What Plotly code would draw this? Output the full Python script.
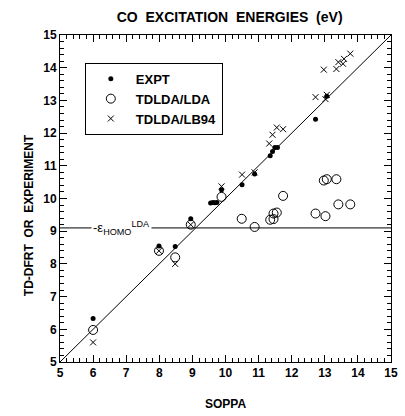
import plotly.graph_objects as go

# --- data ---
expt_x = [6.0, 7.99, 8.48, 8.95, 9.55, 9.62, 9.68, 9.74, 9.88, 10.5, 10.88, 11.35, 11.42, 11.49, 11.57, 12.72, 13.06]
expt_y = [6.33, 8.55, 8.53, 9.38, 9.86, 9.88, 9.87, 9.88, 10.27, 10.42, 10.75, 11.31, 11.44, 11.56, 11.56, 12.42, 13.13]

lda_x = [6.0, 7.99, 8.48, 8.95, 9.88, 10.49, 10.88, 11.35, 11.45, 11.45, 11.55, 11.74, 12.72, 12.97, 13.02, 13.06, 13.35, 13.41, 13.77]
lda_y = [5.98, 8.40, 8.20, 9.20, 10.05, 9.38, 9.13, 9.35, 9.37, 9.54, 9.57, 10.08, 9.54, 10.55, 9.46, 10.59, 10.59, 9.82, 9.82]

lb94_x = [6.0, 7.99, 8.48, 8.95, 9.88, 10.5, 10.88, 11.32, 11.42, 11.55, 11.74, 12.72, 12.97, 13.02, 13.06, 13.35, 13.41, 13.55, 13.58, 13.77]
lb94_y = [5.60, 8.40, 8.00, 9.20, 10.37, 10.73, 10.80, 11.68, 11.95, 12.17, 12.12, 13.10, 13.94, 13.04, 13.17, 13.96, 14.17, 14.12, 14.27, 14.43]

diag = [5, 15]
homo_lda = 9.1
axis_range = [5, 15]

FONT = "Liberation Sans, Arial, Helvetica, sans-serif"

fig = go.Figure()

fig.add_trace(go.Scatter(x=diag, y=diag, mode="lines",
                         line=dict(color="black", width=1), showlegend=False, hoverinfo="skip"))
fig.add_trace(go.Scatter(x=axis_range, y=[homo_lda, homo_lda], mode="lines",
                         line=dict(color="black", width=1), showlegend=False, hoverinfo="skip"))

fig.add_trace(go.Scatter(x=expt_x, y=expt_y, mode="markers", name="EXPT",
                         marker=dict(symbol="circle", size=5, color="black")))
fig.add_trace(go.Scatter(x=lda_x, y=lda_y, mode="markers", name="TDLDA/LDA",
                         marker=dict(symbol="circle-open", size=9, color="black", line=dict(width=1))))
fig.add_trace(go.Scatter(x=lb94_x, y=lb94_y, mode="markers", name="TDLDA/LB94",
                         marker=dict(symbol="x-thin", size=6, color="black", line=dict(width=1, color="black"))))

fig.add_annotation(x=6.85, y=homo_lda, xref="x", yref="y",
                   text="-ε<sub>HOMO</sub><sup>LDA</sup>", showarrow=False,
                   bgcolor="white", borderpad=1,
                   font=dict(family=FONT, size=13, color="black"))

fig.add_annotation(x=-0.12, y=0.45, xref="paper", yref="paper", textangle=-90,
                   text="TD-DFRT  OR  EXPERIMENT", showarrow=False,
                   font=dict(family=FONT, size=12, color="black", weight="bold"))

tickfont = dict(family=FONT, size=12, color="black", weight="bold")

axis_common = dict(range=axis_range, tickmode="linear", dtick=1, tick0=5,
                   ticks="inside", ticklen=7, tickcolor="black", tickwidth=1,
                   showline=True, linecolor="black", linewidth=1, mirror="allticks",
                   showgrid=False, zeroline=False, tickfont=tickfont,
                   minor=dict(tickmode="linear", tick0=5, dtick=0.2, ticks="inside",
                              ticklen=4, tickwidth=1, tickcolor="black", showgrid=False))

fig.update_layout(
    width=405, height=416,
    margin=dict(l=60, r=7, t=35, b=44),
    paper_bgcolor="white", plot_bgcolor="white",
    title=dict(text="CO  EXCITATION  ENERGIES  (eV)", x=0.567, xanchor="center", y=0.96, yanchor="middle",
               font=dict(family=FONT, size=14, color="black", weight="bold")),
    xaxis=dict(axis_common, title=dict(text="SOPPA", standoff=20,
                                       font=dict(family=FONT, size=12, color="black", weight="bold"))),
    yaxis=dict(axis_common),
    legend=dict(x=0.075, y=0.915, xanchor="left", yanchor="top",
                bordercolor="black", borderwidth=1, bgcolor="white", itemwidth=40,
                font=dict(family=FONT, size=13, color="black", weight="bold")),
    showlegend=True,
)

fig.write_html("out.html")
